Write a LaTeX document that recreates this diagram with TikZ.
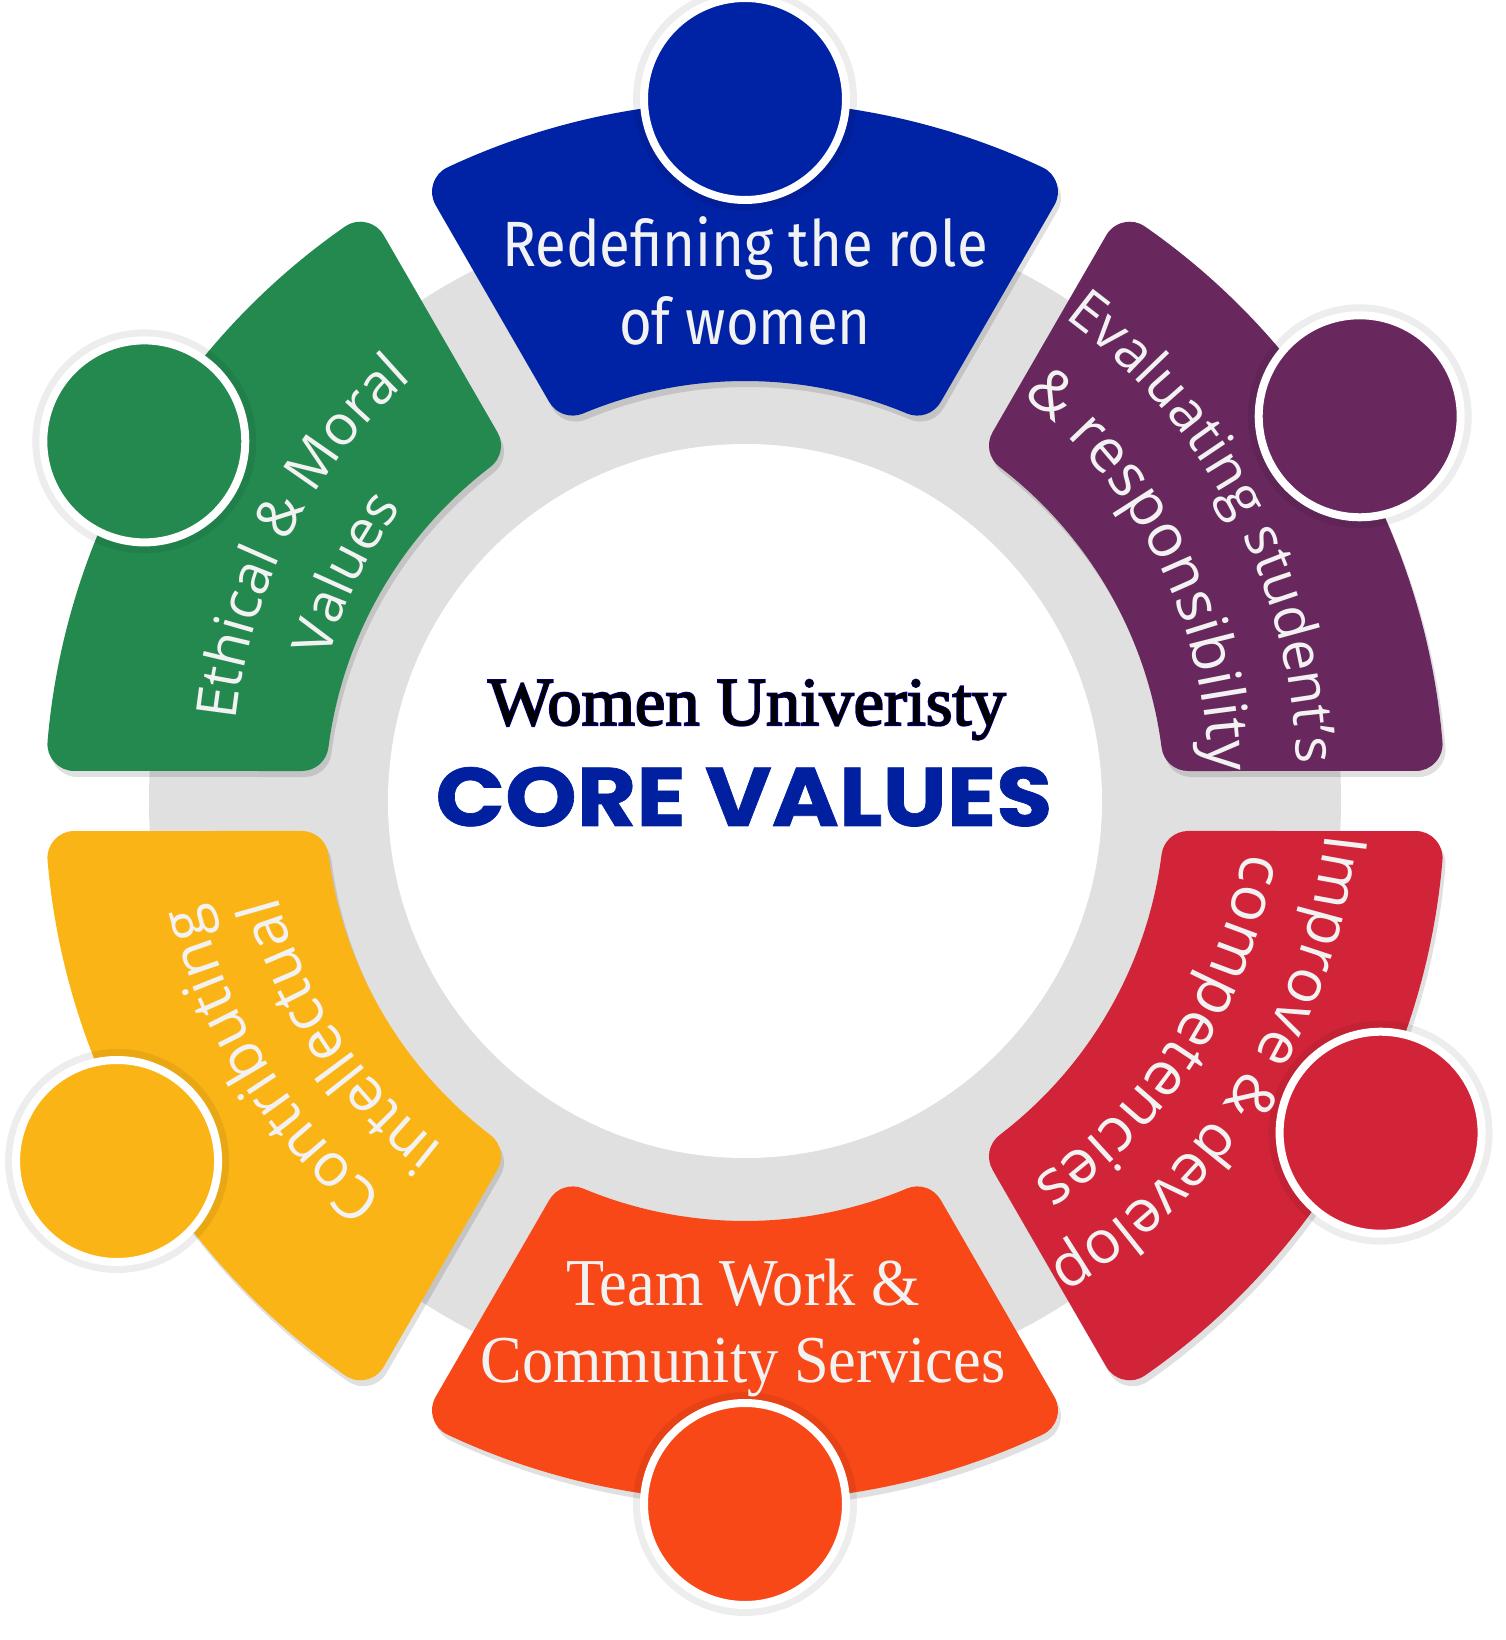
\documentclass[tikz,border=0pt]{standalone}
\usepackage{fontspec}
\usetikzlibrary{decorations.text}
\newfontfamily\sidefam{Open Sans}
\newfontfamily\sidefamls{Open Sans}[LetterSpace=5]
\newfontfamily\condfam{Fira Sans}[FakeStretch=0.88]
\newfontfamily\teamfam{Liberation Serif}[FakeStretch=0.93]
\newfontfamily\wufam{Liberation Serif}[FakeBold=0.6]
\newfontfamily\wuhalo{Liberation Serif}[FakeBold=3]
\newfontfamily\popfam{Poppins}[FakeStretch=1.1,FakeBold=0.8]
\definecolor{cblue}{RGB}{0,34,165}
\definecolor{cpurple}{RGB}{104,40,94}
\definecolor{cgreen}{RGB}{36,137,79}
\definecolor{cyellow}{RGB}{251,180,22}
\definecolor{corange}{RGB}{248,72,23}
\definecolor{cred}{RGB}{210,36,56}
\definecolor{cring}{RGB}{224,224,224}
\definecolor{ctext}{RGB}{242,242,242}
\definecolor{ccore}{RGB}{0,32,160}
\newcommand\fsa{\sidefam\fontsize{56pt}{60pt}\selectfont}
\newcommand\fsb{\sidefam\fontsize{60pt}{60pt}\selectfont}
\newcommand\fsc{\sidefam\fontsize{62pt}{60pt}\selectfont}
\newcommand\fsd{\sidefamls\fontsize{60pt}{60pt}\selectfont}
\newcommand\fse{\sidefam\fontsize{55pt}{60pt}\selectfont}
\newcommand\seg[2]{\path[#2] ({#1+25.14}:673) arc[start angle={#1+25.14},end angle={#1-25.14},radius=673] -- ({#1-22.674}:447) arc[start angle={#1-22.674},end angle={#1+22.674},radius=447] -- cycle;}
% angle, radius, centre x, centre y, text, font
\newcommand\arctext[6]{\path[decorate,decoration={text along path,text align=center,text color=ctext,text={|#6|#5}}] ([shift={(#3,#4)}]{#1+45}:#2) arc[start angle={#1+45},end angle={#1-45},radius=#2];}
\tikzset{
  segsty/.style={fill=#1,draw=#1,line width=54pt,line join=round},
  headsty/.style={circle,fill=#1,draw=white,line width=8pt,minimum size=202pt,inner sep=0pt},
  halo/.style={fill=black,opacity=0.07}
}
\begin{document}
\begin{tikzpicture}[x=1pt,y=1pt]
\useasboundingbox (-745,-839) rectangle (760,801);
\fill[white] (-745,-839) rectangle (760,801);
% ring
\fill[cring] (0,0) circle[radius=596];
\fill[white] (0,0) circle[radius=357];
% segment shadows
\begin{scope}[transparency group,opacity=0.12]
\foreach \a in {90,30,-30,-90,-150,150}{\seg{\a}{segsty=black,shift={(3,-6)}}}
\end{scope}
% segments
\seg{90}{segsty=cblue}
\seg{30}{segsty=cpurple}
\seg{-30}{segsty=cred}
\seg{-90}{segsty=corange}
\seg{-150}{segsty=cyellow}
\seg{150}{segsty=cgreen}
% heads
\foreach \p in {(0,702),(614.7,384.7),(635.6,-331.7),(0,-703),(-627.9,-360),(-600.7,359.6)}{\fill[halo] \p circle[radius=112];}
\node[headsty=cblue] (hblue) at (0,702) {};
\node[headsty=cpurple] (hpurple) at (614.7,384.7) {};
\node[headsty=cred] (hred) at (635.6,-331.7) {};
\node[headsty=corange] (horange) at (0,-703) {};
\node[headsty=cyellow] (hyellow) at (-627.9,-360) {};
\node[headsty=cgreen] (hgreen) at (-600.7,359.6) {};
% straight texts
\node[anchor=base,text=ctext,font=\condfam\fontsize{64pt}{70pt}\selectfont,inner sep=0pt] (redef1) at (0,534) {Redefining the role};
\node[anchor=base,text=ctext,font=\condfam\fontsize{64pt}{70pt}\selectfont,inner sep=0pt] (redef2) at (0,456) {of women};
\node[anchor=base,text=ctext,font=\teamfam\fontsize{67pt}{72pt}\selectfont,inner sep=0pt] (team1) at (-2,-504) {Team Work \&};
\node[anchor=base,text=ctext,font=\teamfam\fontsize{67pt}{72pt}\selectfont,inner sep=0pt] (team2) at (-2,-581) {Community Services};
% curved texts
\arctext{27.5}{566}{-15}{26}{Evaluating student’s}{\fsa}
\arctext{26.4}{478}{-15}{26}{{\&} responsibility}{\fsb}
\arctext{-32.7}{568}{15}{26}{Improve {\&} develop}{\fsb}
\arctext{-32.6}{489}{15}{26}{competencies}{\fsc}
\arctext{212.2}{545}{-15}{26}{Contributing}{\fsb}
\arctext{213.7}{469}{-15}{26}{intellectual}{\fsd}
\arctext{152.7}{527}{15}{26}{Ethical {\&} Moral}{\fsa}
\arctext{154.1}{447}{15}{26}{Values}{\fse}
% centre
\node[anchor=base,text=blue!60!black,font=\wuhalo\fontsize{68.5pt}{72pt}\selectfont,inner sep=0pt] (wuhalo) at (2,76) {Women Univeristy};
\node[anchor=base,text=black,font=\wufam\fontsize{68.5pt}{72pt}\selectfont,inner sep=0pt] (wu) at (2,76) {Women Univeristy};
\node[anchor=base,text=ccore,font=\popfam\bfseries\fontsize{83pt}{90pt}\selectfont,inner sep=0pt] (cv) at (-1,-25) {CORE VALUES};
\end{tikzpicture}
\end{document}
